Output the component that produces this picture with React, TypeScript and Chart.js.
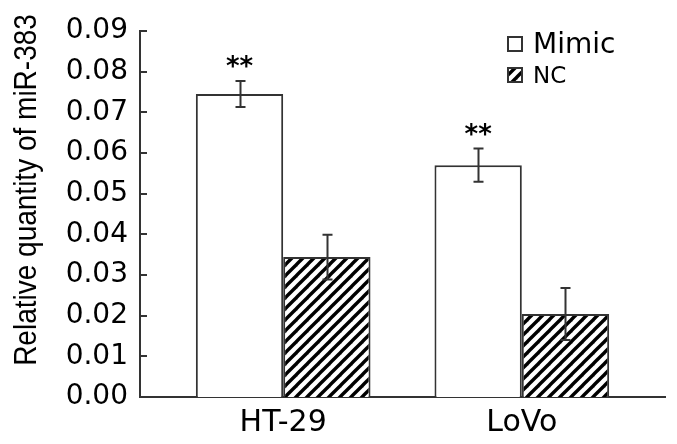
import React, { useEffect, useRef } from 'react';
import { Chart, registerables } from 'chart.js';

Chart.register(...registerables);

// ---- data ----
const categories = ['HT-29', 'LoVo'];
const seriesNames = ['Mimic', 'NC'];
const mimicValues = [0.0745, 0.057];
const mimicErrors = [0.0032, 0.0041];
const ncValues = [0.0344, 0.0204];
const ncErrors = [0.0055, 0.0064];
const mimicSignificance = ['**', '**'];
const yMin = 0;
const yMax = 0.09;
const yStep = 0.01;
const yTitle = 'Relative quantity of miR-383';

const INK = '#333333';
const DEJAVU = '"DejaVu Sans", sans-serif';
const ARIAL = '"Liberation Sans", Arial, sans-serif';

function makeHatch(): CanvasPattern | string {
  const size = 11;
  const c = document.createElement('canvas');
  c.width = size;
  c.height = size;
  const g = c.getContext('2d');
  if (!g) return '#888';
  g.fillStyle = '#ffffff';
  g.fillRect(0, 0, size, size);
  g.strokeStyle = '#000000';
  g.lineWidth = 3.4;
  g.lineCap = 'square';
  for (const off of [-size, 0, size]) {
    g.beginPath();
    g.moveTo(off, size);
    g.lineTo(off + size, 0);
    g.stroke();
  }
  const p = g.createPattern(c, 'repeat');
  return p || '#888';
}

const errorBarPlugin = {
  id: 'errorBars',
  afterDatasetsDraw(chart: any) {
    const ctx = chart.ctx;
    const y = chart.scales.y;
    chart.data.datasets.forEach((ds: any, i: number) => {
      const meta = chart.getDatasetMeta(i);
      meta.data.forEach((bar: any, j: number) => {
        const v = ds.data[j].y;
        const e = ds.errors[j];
        const top = y.getPixelForValue(v + e);
        const bot = y.getPixelForValue(v - e);
        const x = Math.round(bar.x) + 0.5;
        ctx.save();
        ctx.strokeStyle = INK;
        ctx.lineWidth = 2;
        ctx.beginPath();
        ctx.moveTo(x, top);
        ctx.lineTo(x, bot);
        ctx.moveTo(x - 5, top);
        ctx.lineTo(x + 5, top);
        ctx.moveTo(x - 5, bot);
        ctx.lineTo(x + 5, bot);
        ctx.stroke();
        if (ds.significance && ds.significance[j]) {
          ctx.font = `bold 26px ${DEJAVU}`;
          ctx.fillStyle = '#000';
          ctx.textAlign = 'center';
          ctx.textBaseline = 'alphabetic';
          const m = ctx.measureText(ds.significance[j]);
          const targetBottom = top - 13;
          ctx.fillText(ds.significance[j], bar.x, targetBottom - m.actualBoundingBoxDescent);
        }
        ctx.restore();
      });
    });
  },
};

const axisDecorPlugin = {
  id: 'axisDecor',
  afterDraw(chart: any) {
    const ctx = chart.ctx;
    const y = chart.scales.y;
    const area = chart.chartArea;
    ctx.save();
    ctx.strokeStyle = INK;
    ctx.lineWidth = 2;
    y.ticks.forEach((t: any) => {
      const py = Math.round(y.getPixelForValue(t.value));
      ctx.beginPath();
      ctx.moveTo(area.left, py);
      ctx.lineTo(area.left + 7, py);
      ctx.stroke();
    });
    // y-axis title (slightly widened glyphs like the source)
    ctx.save();
    ctx.translate(area.left - 113, area.top + 159);
    ctx.scale(1.14, 1);
    ctx.rotate(-Math.PI / 2);
    ctx.font = `28px ${ARIAL}`;
    ctx.fillStyle = '#000';
    ctx.textAlign = 'center';
    ctx.textBaseline = 'middle';
    ctx.fillText(yTitle, 0, 0);
    ctx.restore();
    // legend
    const sx = area.right - 157;
    const rows = [
      { dy: 6, font: `28px ${DEJAVU}`, base: 22 },
      { dy: 37, font: `23px ${DEJAVU}`, base: 52 },
    ];
    chart.data.datasets.forEach((ds: any, i: number) => {
      const r = rows[i];
      const sy = area.top + r.dy;
      ctx.fillStyle = ds.backgroundColor;
      ctx.fillRect(sx, sy, 14, 14);
      ctx.lineWidth = 2;
      ctx.strokeStyle = INK;
      ctx.strokeRect(sx, sy, 14, 14);
      ctx.fillStyle = '#000';
      ctx.font = r.font;
      ctx.textAlign = 'left';
      ctx.textBaseline = 'alphabetic';
      ctx.fillText(ds.label, sx + 25, area.top + r.base);
    });
    ctx.restore();
  },
};

export default function App() {
  const ref = useRef<HTMLCanvasElement>(null);

  useEffect(() => {
    if (!ref.current) return;
    const hatch = makeHatch();
    const chart = new Chart(ref.current, {
      type: 'bar',
      data: {
        datasets: [
          {
            label: seriesNames[0],
            data: mimicValues.map((v, i) => ({ x: i, y: v })),
            errors: mimicErrors,
            significance: mimicSignificance,
            backgroundColor: '#ffffff',
            borderColor: INK,
            borderWidth: 2,
          } as any,
          {
            label: seriesNames[1],
            data: ncValues.map((v, i) => ({ x: i, y: v })),
            errors: ncErrors,
            backgroundColor: hatch,
            borderColor: INK,
            borderWidth: 2,
          } as any,
        ],
      },
      options: {
        animation: false,
        responsive: false,
        devicePixelRatio: 1,
        layout: { padding: { top: 31, right: 12, left: 0, bottom: 0 } },
        datasets: { bar: { categoryPercentage: 0.732, barPercentage: 1 } },
        plugins: { legend: { display: false }, tooltip: { enabled: false } },
        scales: {
          x: {
            type: 'linear',
            min: -0.6,
            max: categories.length - 1 + 0.6,
            offset: false,
            grace: 0,
            z: 1,
            grid: { display: false, drawTicks: false, offset: false },
            border: { display: true, color: INK, width: 2 },
            afterBuildTicks: (s: any) => {
              s.ticks = categories.map((_, i) => ({ value: i }));
            },
            afterFit: (s: any) => {
              s.height = 47;
            },
            ticks: {
              autoSkip: false,
              maxRotation: 0,
              padding: 8,
              color: '#000',
              font: { family: DEJAVU, size: 30 },
              callback: (v: any) => categories[Math.round(v)] ?? '',
            },
          },
          y: {
            min: yMin,
            max: yMax,
            z: 1,
            grid: { display: false, drawTicks: false },
            border: { display: true, color: INK, width: 2 },
            afterFit: (s: any) => {
              s.width = 140;
            },
            ticks: {
              stepSize: yStep,
              padding: 12,
              color: '#000',
              font: { family: DEJAVU, size: 28 },
              callback: (v: any) => Number(v).toFixed(2),
            },
            title: { display: false },
          },
        },
      } as any,
      plugins: [errorBarPlugin, axisDecorPlugin],
    });
    return () => chart.destroy();
  }, []);

  return (
    <div style={{ position: 'absolute', left: 0, top: 0, width: 677, height: 444, background: '#fff' }}>
      <canvas ref={ref} width={677} height={444} style={{ width: 677, height: 444 }} />
    </div>
  );
}
